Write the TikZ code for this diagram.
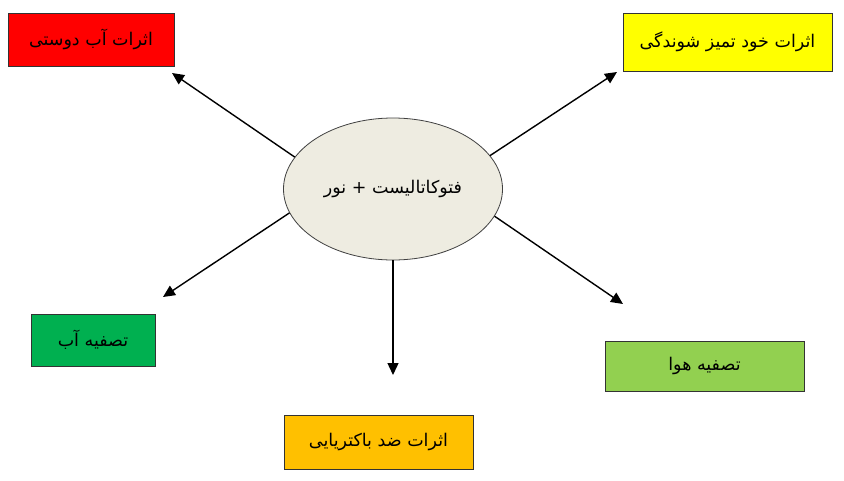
\documentclass[tikz,border=0pt]{standalone}
\usepackage{fontspec}
\newfontfamily\arabicfont[Script=Arabic]{DejaVu Sans}
\TeXXeTstate=1
\usepackage{tikz}
\usetikzlibrary{calc,shapes,positioning}
\usetikzlibrary{arrows.meta}
\tikzset{>={Triangle[width=11pt,length=12pt]}}
\newcommand{\fa}[1]{{\arabicfont\fontsize{17.5}{21}\selectfont\beginR #1\endR}}

\begin{document}
\begin{tikzpicture}[x=1pt,y=-1pt]
    \useasboundingbox (0,0) rectangle (844,480);

      \tikzstyle{enode} = [ellipse, draw=black!75, line width = 0.8pt, fill={rgb,255:red,238;green,236;blue,225}, minimum width = 219pt, minimum height = 142pt, inner sep = 0pt]
      \tikzstyle{bnode} = [rectangle, draw=black!80, inner sep = 0pt]
      \tikzstyle{arr} = [->, line width = 1.4pt]

      \node[enode] (photo) at (393,189) {\fa{فتوکاتالیست + نور}};

      \node[bnode, fill={rgb,255:red,255;green,0;blue,0}, minimum width = 166pt, minimum height = 53pt] (hydro) at (91,39.5) {\fa{اثرات آب دوستی}};
      \node[bnode, fill={rgb,255:red,255;green,255;blue,0}, minimum width = 209pt, minimum height = 58pt] (clean) at (727.5,42) {\fa{اثرات خود تمیز شوندگی}};
      \node[bnode, fill={rgb,255:red,0;green,176;blue,80}, minimum width = 124pt, minimum height = 52pt] (water) at (93,340) {\fa{تصفیه آب}};
      \node[bnode, fill={rgb,255:red,146;green,208;blue,80}, minimum width = 199pt, minimum height = 50pt] (air) at (704.5,366) {\fa{تصفیه هوا}};
      \node[bnode, fill={rgb,255:red,255;green,192;blue,0}, minimum width = 189pt, minimum height = 54pt] (bact) at (378.5,442) {\fa{اثرات ضد باکتریایی}};

      % arrow ends, short of the boxes
      \coordinate (thydro) at (172,73);
      \coordinate (tclean) at (617,72);
      \coordinate (twater) at (163,297);
      \coordinate (tbact) at (393,375);
      \coordinate (tair) at (623,304);

      % edge ellipse to boxes
      \draw[arr] (photo.162) -- (thydro);
      \draw[arr] (photo.19) -- (tclean);
      \draw[arr] (photo.193) -- (twater);
      \draw[arr] (photo.270) -- (tbact);
      \draw[arr] (photo.345) -- (tair);

  \end{tikzpicture}
\end{document}
